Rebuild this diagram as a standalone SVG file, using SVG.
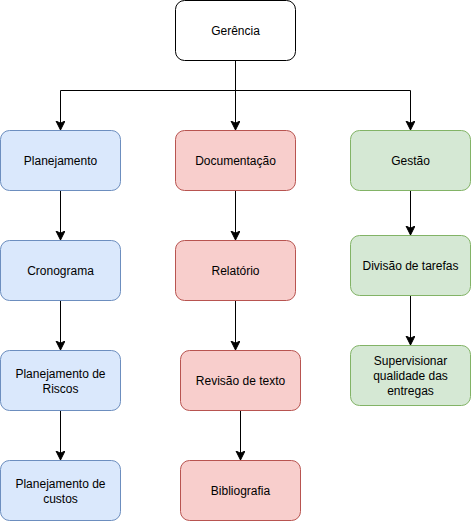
<svg xmlns="http://www.w3.org/2000/svg" width="473" height="523" viewBox="0 0 473 523">
<style>
.n{stroke-width:1}
.w{fill:#ffffff;stroke:#000000}
.b{fill:#dae8fc;stroke:#6c8ebf}
.r{fill:#f8cecc;stroke:#b85450}
.g{fill:#d5e8d4;stroke:#82b366}
text{font-family:"Liberation Sans",Arial,Helvetica,sans-serif;font-size:12px;fill:#000000;text-anchor:middle}
.e{fill:none;stroke:#000000;stroke-width:1}
</style>
<defs>
<marker id="arr" markerUnits="userSpaceOnUse" markerWidth="12" markerHeight="12" refX="9" refY="4.5" orient="auto">
<path d="M0,0 L9,4.5 L0,9 L2.2,4.5 Z" fill="#000000" stroke="#000000" stroke-width="1"/>
</marker>
</defs>
<g id="connectors">
<path class="e" d="M235.5,60.5 V90.5 H60.5 V130" marker-end="url(#arr)"/>
<path class="e" d="M235.5,60.5 V130" marker-end="url(#arr)"/>
<path class="e" d="M235.5,90.5 H410.5 V130" marker-end="url(#arr)"/>
<path class="e" d="M60.5,190.5 V240" marker-end="url(#arr)"/>
<path class="e" d="M60.5,300.5 V350" marker-end="url(#arr)"/>
<path class="e" d="M60.5,410.5 V460" marker-end="url(#arr)"/>
<path class="e" d="M235.5,190.5 V240" marker-end="url(#arr)"/>
<path class="e" d="M235.5,300.5 V350" marker-end="url(#arr)"/>
<path class="e" d="M240.5,410.5 V460" marker-end="url(#arr)"/>
<path class="e" d="M410.5,190.5 V235" marker-end="url(#arr)"/>
<path class="e" d="M410.5,295.5 V345" marker-end="url(#arr)"/>
</g>
<g id="gerencia"><rect class="n w" x="175.5" y="0.5" width="120" height="60" rx="9"/><text x="235.5" y="35">Gerência</text></g>
<g id="planejamento"><rect class="n b" x="0.5" y="130.5" width="120" height="60" rx="9"/><text x="60.5" y="165">Planejamento</text></g>
<g id="documentacao"><rect class="n r" x="175.5" y="130.5" width="120" height="60" rx="9"/><text x="235.5" y="165">Documentação</text></g>
<g id="gestao"><rect class="n g" x="350.5" y="130.5" width="120" height="60" rx="9"/><text x="410.5" y="165">Gestão</text></g>
<g id="cronograma"><rect class="n b" x="0.5" y="240.5" width="120" height="60" rx="9"/><text x="60.5" y="275">Cronograma</text></g>
<g id="relatorio"><rect class="n r" x="175.5" y="240.5" width="120" height="60" rx="9"/><text x="235.5" y="275">Relatório</text></g>
<g id="divisao"><rect class="n g" x="350.5" y="235.5" width="120" height="60" rx="9"/><text x="410.5" y="270">Divisão de tarefas</text></g>
<g id="riscos"><rect class="n b" x="0.5" y="350.5" width="120" height="60" rx="9"/><text x="60.5" y="377.5">Planejamento de</text><text x="60.5" y="392.5">Riscos</text></g>
<g id="revisao"><rect class="n r" x="180.5" y="350.5" width="120" height="60" rx="9"/><text x="240.5" y="385">Revisão de texto</text></g>
<g id="supervisionar"><rect class="n g" x="350.5" y="345.5" width="120" height="60" rx="9"/><text x="410.5" y="365">Supervisionar</text><text x="410.5" y="380">qualidade das</text><text x="410.5" y="395">entregas</text></g>
<g id="custos"><rect class="n b" x="0.5" y="460.5" width="120" height="60" rx="9"/><text x="60.5" y="487.5">Planejamento de</text><text x="60.5" y="502.5">custos</text></g>
<g id="bibliografia"><rect class="n r" x="180.5" y="460.5" width="120" height="60" rx="9"/><text x="240.5" y="495">Bibliografia</text></g>
</svg>
